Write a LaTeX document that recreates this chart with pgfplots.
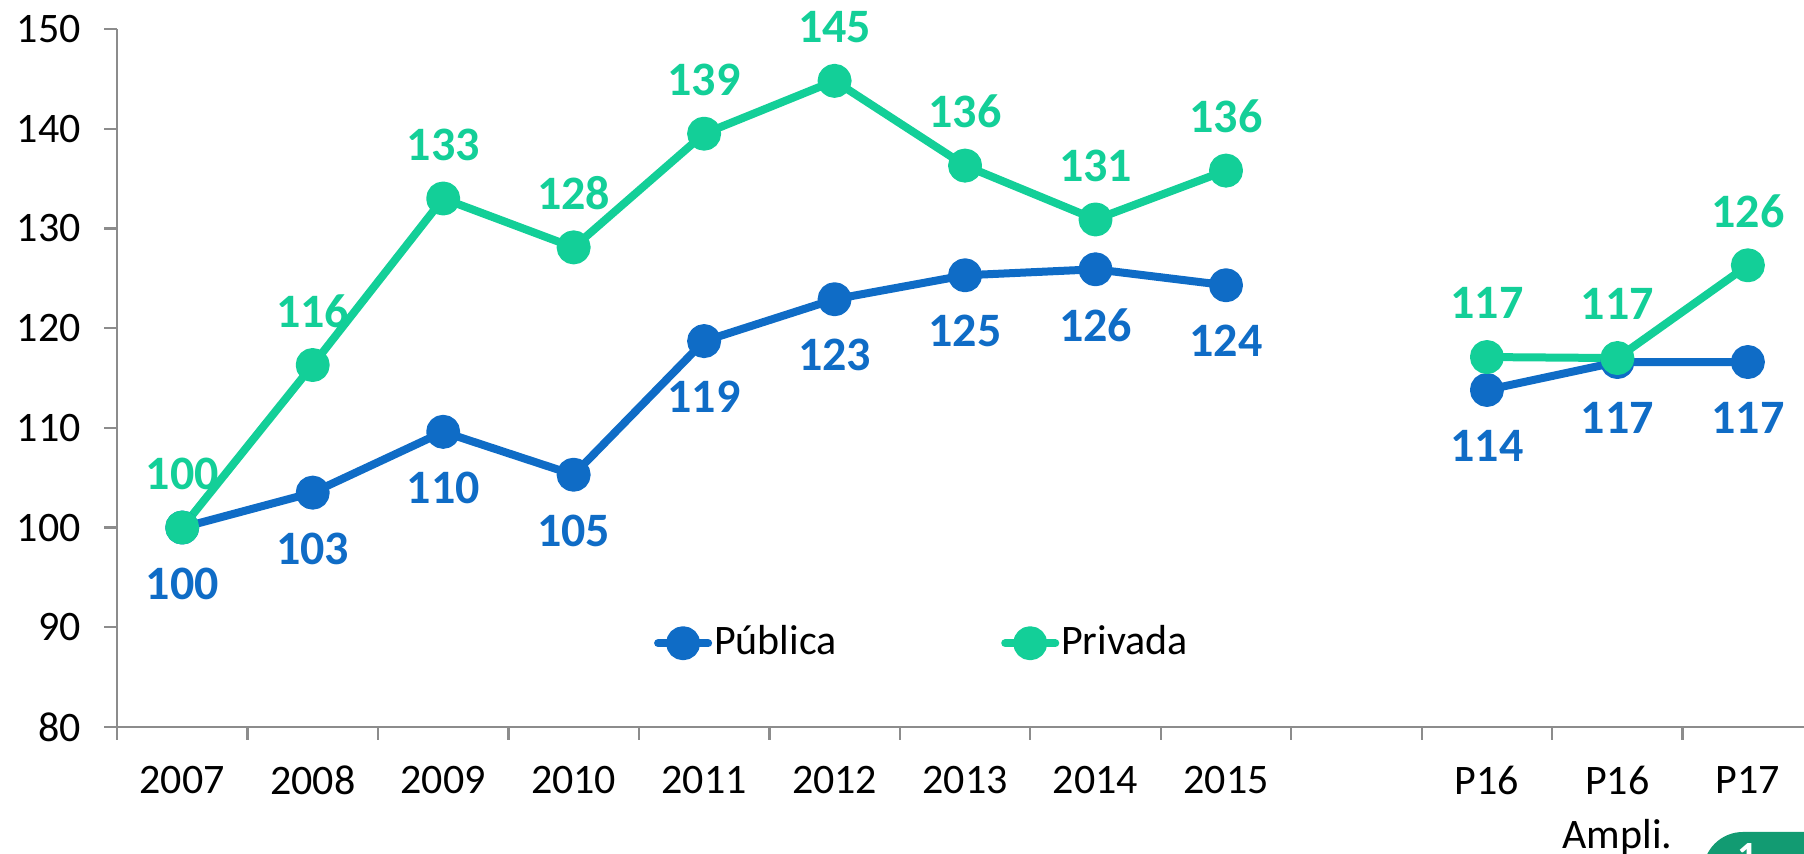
\documentclass[border=0pt]{standalone}
\usepackage{pgfplots}
\pgfplotsset{compat=1.18}
\usepackage{fontspec}
\setmainfont{Carlito}
\definecolor{pub}{RGB}{15,108,198}
\definecolor{priv}{RGB}{19,207,152}
\definecolor{axgray}{RGB}{140,140,140}
\definecolor{badge}{RGB}{18,155,114}
\begin{document}
\begin{tikzpicture}
\begin{axis}[
    scale only axis,
    width=421.75pt, height=174.5pt,
    xmin=-0.5, xmax=12.43,
    ymin=80, ymax=150,
    ytick={80,90,...,150},
    xtick={0,...,12},
    xticklabels={2007,2008,2009,2010,2011,2012,2013,2014,2015,,P16,P16\\Ampli.,P17},
    minor xtick={-0.5,0.5,...,11.5},
    axis x line*=bottom, axis y line*=left,
    axis line style={axgray, line width=0.6pt},
    tick style={axgray, line width=0.6pt},
    major x tick style={draw=none},
    tick align=outside,
    major tick length=3.25pt, minor tick length=3.25pt,
    tick label style={font=\fontsize{10.5}{13.5}\selectfont},
    xticklabel style={align=center, yshift=-3pt, anchor=north},
    yticklabel style={xshift=-2.3pt},
    /pgf/number format/assume math mode=true,
    clip=false,
    point meta=explicit symbolic,
    every axis plot/.append style={line width=2pt, line cap=round, line join=round,
        mark=*, mark size=3.25pt},
    legend columns=2,
    legend style={draw=none, fill=none, at={(axis cs:5.67,88.4)}, anchor=center,
        font=\fontsize{10.5}{12}\selectfont, inner sep=0pt,
        /tikz/every even column/.append style={column sep=40.6pt},
        nodes={inner sep=0.5pt}},
    legend image code/.code={\draw[mark repeat=2,mark phase=2] plot coordinates {(0cm,0cm) (0.22cm,0cm) (0.44cm,0cm)};},
]
% Publica
\addplot[pub, mark options={fill=pub, draw=pub},
    nodes near coords, every node near coord/.style={anchor=center, yshift=-14pt,
        font=\fontsize{12}{14}\selectfont\bfseries, text=pub}]
  coordinates {(0,100)[100] (1,103.5)[103] (2,109.6)[110] (3,105.3)[105] (4,118.7)[119]
               (5,122.9)[123] (6,125.3)[125] (7,125.9)[126] (8,124.3)[124]};
\addlegendentry{Pública}
% Privada
\addplot[priv, mark options={fill=priv, draw=priv},
    nodes near coords, every node near coord/.style={anchor=center, yshift=13.5pt,
        font=\fontsize{12}{14}\selectfont\bfseries, text=priv}]
  coordinates {(0,100)[100] (1,116.3)[116] (2,133.0)[133] (3,128.1)[128] (4,139.5)[139]
               (5,144.8)[145] (6,136.3)[136] (7,130.9)[131] (8,135.8)[136]};
\addlegendentry{Privada}
\addplot[pub, forget plot, mark options={fill=pub, draw=pub},
    nodes near coords, every node near coord/.style={anchor=center, yshift=-14pt,
        font=\fontsize{12}{14}\selectfont\bfseries, text=pub}]
  coordinates {(10,113.8)[114] (11,116.6)[117] (12,116.6)[117]};
\addplot[priv, forget plot, mark options={fill=priv, draw=priv},
    nodes near coords, every node near coord/.style={anchor=center, yshift=13.5pt,
        font=\fontsize{12}{14}\selectfont\bfseries, text=priv}]
  coordinates {(10,117.1)[117] (11,117.0)[117] (12,126.3)[126]};
\coordinate (O) at (rel axis cs:0,0);
\end{axis}
\begin{scope}[shift={(O)}]
\clip (-29.25pt,-31.75pt) rectangle (421.75pt,181.75pt);
\fill[badge, rounded corners=10pt] (396.5pt,-26.25pt) rectangle (440pt,-60pt);
\node[text=white, font=\fontsize{10}{12}\selectfont\bfseries] at (407.75pt,-32.5pt) {1};
\end{scope}
\pgfresetboundingbox
\path[use as bounding box, shift={(O)}] (-29.25pt,-31.75pt) rectangle (421.75pt,181.75pt);
\end{tikzpicture}
\end{document}
